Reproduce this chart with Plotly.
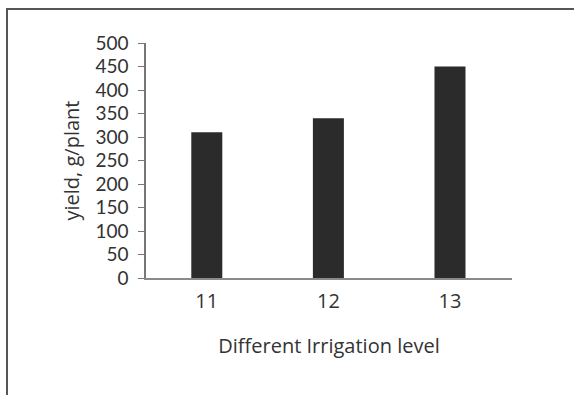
import plotly.graph_objects as go

categories = ["11", "12", "13"]
yield_values = [310, 340, 450]
y_ticks = [0, 50, 100, 150, 200, 250, 300, 350, 400, 450, 500]

FONT = "Open Sans"
TICKFONT = "Lato"
TXT = "#333333"
FS = 20

fig = go.Figure()
fig.add_trace(go.Bar(
    x=categories, y=yield_values, width=0.255,
    marker=dict(color="#2b2b2b", line=dict(color="#2b2b2b", width=0)),
))

W, H = 574, 395
L, R, T, B = 146, 62, 43, 117
pw, ph = W - L - R, H - T - B

def px(x):
    return (x - L) / pw

def py(y):
    return (H - B - y) / ph

fig.update_layout(
    width=W, height=H,
    margin=dict(l=L, r=R, t=T, b=B),
    paper_bgcolor="white", plot_bgcolor="white",
    showlegend=False,
    font=dict(family=FONT, color=TXT, size=FS),
    xaxis=dict(
        type="category", range=[-0.5, 2.51],
        showline=True, linecolor="#8a8a8a", linewidth=1.5,
        ticks="", showgrid=False, zeroline=False,
        tickfont=dict(size=FS, family=FONT, color=TXT),
        ticklabelstandoff=4,
        title=dict(text="Different Irrigation level", standoff=26,
                   font=dict(size=FS, family=FONT, color=TXT)),
    ),
    yaxis=dict(
        range=[0, 500], tickvals=y_ticks,
        showline=True, linecolor="#777777", linewidth=1.5,
        ticks="outside", ticklen=6, tickcolor="#777777", tickwidth=1,
        showgrid=False, zeroline=False,
        tickfont=dict(size=19, family=TICKFONT, color=TXT),
        ticklabelstandoff=6,
        title=dict(text="yield, g/plant", standoff=10,
                   font=dict(size=FS, family=FONT, color=TXT)),
    ),
    shapes=[
        dict(type="line", xref="paper", yref="paper",
             x0=px(7), x1=px(7), y0=py(9), y1=py(400),
             line=dict(color="#555555", width=2)),
        dict(type="line", xref="paper", yref="paper",
             x0=px(6), x1=px(580), y0=py(9), y1=py(9),
             line=dict(color="#555555", width=2)),
    ],
)

fig.write_html("out.html", config={"displayModeBar": False},
               post_script="document.body.style.margin='0';document.body.style.overflow='hidden';")
